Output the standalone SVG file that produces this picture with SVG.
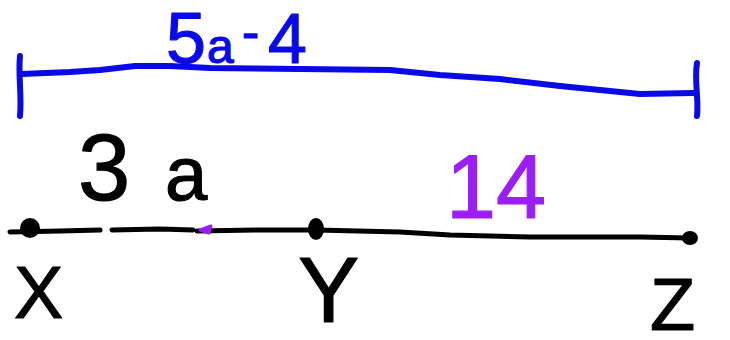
<svg xmlns="http://www.w3.org/2000/svg" width="730" height="340" viewBox="0 0 730 340">
<style>
.blue{stroke:#0a0ae6;stroke-width:6;fill:none;stroke-linecap:round;stroke-linejoin:round}
.blk{stroke:#000;stroke-width:5;fill:none;stroke-linecap:round;stroke-linejoin:round}
.t{font-family:"Liberation Sans",Arial,sans-serif;stroke-width:1.2;stroke-linejoin:round}
</style>
<rect width="730" height="340" fill="#fff"/>
<g id="connectors">
<path class="blue" d="M20,56 C18,75 22,95 20,116"/>
<path class="blue" d="M22,74 L70,72 L100,70 L135,66 L170,66 L210,68 L300,69 L390,70 L440,75 L500,79 L560,86 L610,91 L640,94 L693,93"/>
<path class="blue" d="M697,63 C694,80 699,100 697,116"/>
<path class="blk" d="M10,232 L60,231 L100,230"/>
<path class="blk" d="M112,230 L160,229 L193,230"/>
<path class="blk" d="M197,231 L260,230 L316,230 L400,232 L450,235 L530,237 L640,237 L690,238"/>
<path d="M200,230 L211,226 L209,233 Z" fill="#9b1ff5" stroke="#9b1ff5" stroke-width="3" stroke-linejoin="round"/>
</g>
<g id="node-X">
<ellipse cx="30" cy="228" rx="10" ry="10" fill="#000"/>
<text class="t" x="14" y="318" font-size="74" fill="#000" stroke="#000">X</text>
</g>
<g id="node-Y">
<ellipse cx="316" cy="229" rx="8" ry="11" fill="#000"/>
<text class="t" x="298" y="322" font-size="92" fill="#000" stroke="#000">Y</text>
</g>
<g id="node-Z">
<ellipse cx="690" cy="238" rx="8" ry="7" fill="#000"/>
<text class="t" x="650" y="330" font-size="74" fill="#000" stroke="#000">Z</text>
</g>
<g id="label-5a-4">
<text class="t" fill="#0a0ae6" stroke="#0a0ae6"><tspan x="166" y="63" font-size="72">5</tspan><tspan x="207" y="63" font-size="48">a</tspan><tspan x="242" y="50" font-size="52">-</tspan><tspan x="268" y="63" font-size="70">4</tspan></text>
</g>
<g id="label-3a">
<text class="t" fill="#000" stroke="#000"><tspan x="78" y="200" font-size="94">3</tspan><tspan x="165" y="200" font-size="76">a</tspan></text>
</g>
<g id="label-14">
<text class="t" x="446" y="218" font-size="90" fill="#9b1ff5" stroke="#9b1ff5">14</text>
</g>
</svg>
